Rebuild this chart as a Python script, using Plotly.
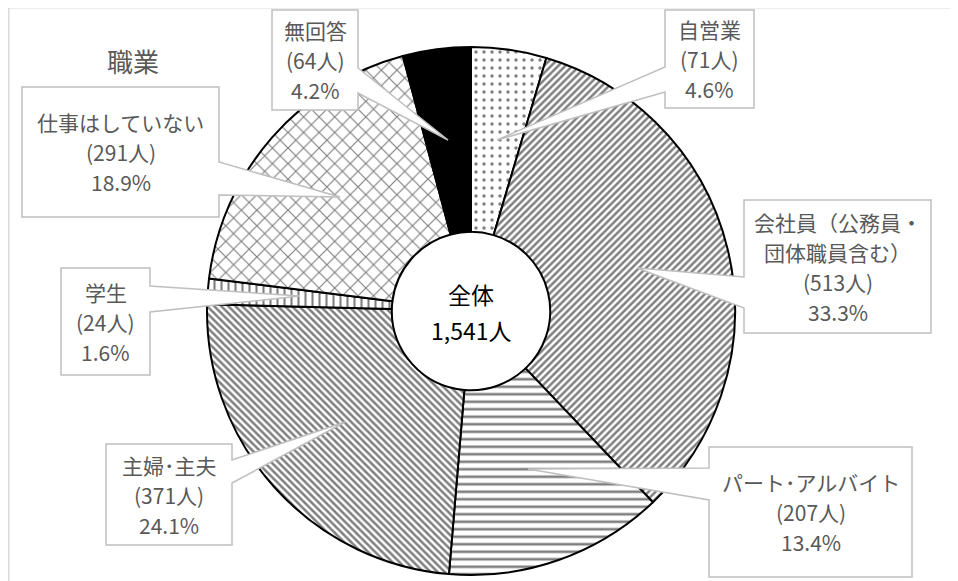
import plotly.graph_objects as go

# ---- data ----
categories = ["自営業", "会社員（公務員・団体職員含む）", "パート・アルバイト",
              "主婦・主夫", "学生", "仕事はしていない", "無回答"]
counts = [71, 513, 207, 371, 24, 291, 64]
shares = [4.6, 33.3, 13.4, 24.1, 1.6, 18.9, 4.2]
label_lines = [["自営業"], ["会社員（公務員・", "団体職員含む）"], ["パート･アルバイト"],
               ["主婦･主夫"], ["学生"], ["仕事はしていない"], ["無回答"]]
total_name = "全体"
total_value = "1,541人"
title_text = "職業"

# ---- styles ----
patterns = [".", "/", "-", "\\", "|", "x", ""]
pattern_sizes = [8, 5, 7.5, 5, 7, 11, 8]
pattern_solid = [0.15, 0.5, 0.35, 0.5, 0.3, 0.2, 0.3]
fill_colors = ["white"] * 6 + ["black"]

OFF = 8          # page body margin
W, H = 950, 573  # figure size so page fits the 958x581 window
LINE = 30        # label line spacing (px)


def fx(px):
    return (px - OFF) / W


def fy(py):
    return 1 - (py - OFF) / H


fig = go.Figure(go.Pie(
    labels=categories,
    values=counts,
    sort=False,
    direction="clockwise",
    rotation=0,
    hole=0.30,
    textinfo="none",
    hoverinfo="label+value",
    marker=dict(
        colors=fill_colors,
        line=dict(color="black", width=2),
        pattern=dict(shape=patterns, size=pattern_sizes, solidity=pattern_solid,
                     fgcolor="black", bgcolor=fill_colors, fillmode="overlay"),
    ),
    domain=dict(x=[fx(471 - 264), fx(471 + 264)], y=[fy(575), fy(47)]),
    showlegend=False,
))

# callout geometry (reference pixels): box, wedge side, wedge base, tip
callouts = [
    ((665, 10, 754, 108), "left", (67, 92), (497, 140)),
    ((744, 200, 931, 333), "left", (277, 308), (637, 268)),
    ((709, 447, 912, 577), "left", (468, 500), (528, 469)),
    ((106, 444, 232, 545), "right", (460, 483), (345, 422)),
    ((61, 268, 150, 375), "right", (286, 312), (300, 296)),
    ((22, 87, 219, 217), "right", (162, 195), (340, 197)),
    ((272, 10, 358, 110), "right", (68, 93), (448, 140)),
]


def P(px, py):
    return f"{fx(px):.5f},{fy(py):.5f}"


shapes = []
annotations = []
# outer frame
shapes.append(dict(type="path", xref="paper", yref="paper",
                   path=f"M{P(8.8, 600)} L{P(8.8, 7.8)} L{P(1000, 7.8)}",
                   line=dict(color="#d9d9d9", width=1.5), layer="below"))

for i, (box, side, base, tip) in enumerate(callouts):
    l, t, r, b = box
    y1, y2 = base
    tx, ty = tip
    if side == "left":
        path = (f"M{P(l, t)} L{P(r, t)} L{P(r, b)} L{P(l, b)} "
                f"L{P(l, y2)} L{P(tx, ty)} L{P(l, y1)} Z")
    else:
        path = (f"M{P(l, t)} L{P(r, t)} L{P(r, y1)} L{P(tx, ty)} "
                f"L{P(r, y2)} L{P(r, b)} L{P(l, b)} Z")
    shapes.append(dict(type="path", xref="paper", yref="paper", path=path,
                       fillcolor="white", line=dict(color="#bfbfbf", width=1.5),
                       layer="above"))
    lines = label_lines[i] + [f"({counts[i]}人)", f"{shares[i]:.1f}%"]
    cy = (t + b) / 2
    n = len(lines)
    for k, s in enumerate(lines):
        yy = cy + (k - (n - 1) / 2) * LINE
        annotations.append(dict(x=fx((l + r) / 2), y=fy(yy),
                                xref="paper", yref="paper", text=s, showarrow=False,
                                xanchor="center", yanchor="middle",
                                font=dict(size=21, color="#595959")))

annotations.append(dict(x=fx(471), y=fy(294), xref="paper", yref="paper",
                        text=total_name, showarrow=False, xanchor="center",
                        yanchor="middle", font=dict(size=23, color="black")))
annotations.append(dict(x=fx(471), y=fy(330), xref="paper", yref="paper",
                        text=total_value, showarrow=False, xanchor="center",
                        yanchor="middle", font=dict(size=23, color="black")))
annotations.append(dict(x=fx(133), y=fy(60), xref="paper", yref="paper",
                        text=title_text, showarrow=False, xanchor="center",
                        yanchor="middle", font=dict(size=26, color="#595959")))

fig.update_layout(
    width=W, height=H,
    margin=dict(l=0, r=0, t=0, b=0),
    paper_bgcolor="white", plot_bgcolor="white",
    font=dict(family="Noto Sans CJK JP, sans-serif"),
    shapes=shapes, annotations=annotations,
)

fig.write_html("out.html")
